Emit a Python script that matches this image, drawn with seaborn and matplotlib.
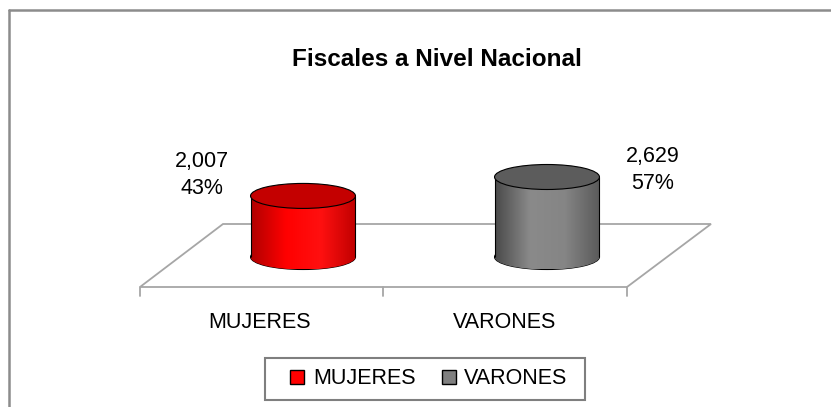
import numpy as np
import matplotlib
matplotlib.use("Agg")
import matplotlib.pyplot as plt
import seaborn as sns
from matplotlib.patches import Ellipse, Polygon, Patch, Rectangle
from matplotlib.lines import Line2D
from matplotlib.colors import LinearSegmentedColormap

# data
categorias = ["MUJERES", "VARONES"]
valores = [2007, 2629]
titulo = "Fiscales a Nivel Nacional"

# styles
colores = ["#ff0000", "#808080"]
tapas = ["#c40000", "#5c5c5c"]
gradientes = [["#b00000", "#ff0000", "#ff1010", "#c00000"],
              ["#4a4a4a", "#8a8a8a", "#858585", "#5a5a5a"]]
offsets_etiqueta = [(-101, 21), (106, 7)]

sns.set_style("white")
plt.rcParams["font.family"] = ["Liberation Sans", "DejaVu Sans"]
plt.rcParams["text.color"] = "black"

W, H = 831, 407
fig = plt.figure(figsize=(W / 100, H / 100), dpi=100)


def fpx(x, y):
    return (x / W, 1 - y / H)


# axes placed so the cylinders land where they are in the reference
ax = fig.add_axes([181 / W, 1 - 300 / H, 488 / W, 200 / H])
ax.patch.set_visible(False)
sns.barplot(x=categorias, y=valores, hue=categorias, palette=colores,
            width=0.43, legend=False, ax=ax, zorder=3)
ymin, ymax = -1413, 5159
ax.set_xlim(-0.5, 1.5)
ax.set_ylim(ymin, ymax)
ax.axis("off")

ell_h = 25 / 200 * (ymax - ymin)
total = sum(valores)

for i, bar in enumerate(ax.patches):
    x0, w, h = bar.get_x(), bar.get_width(), bar.get_height()
    xc = x0 + w / 2
    bar.set_edgecolor("none")
    cmap = LinearSegmentedColormap.from_list("g%d" % i, gradientes[i])
    grad = np.linspace(0, 1, 256).reshape(1, -1)

    # bottom ellipse
    base = Ellipse((xc, 0), w, ell_h, facecolor=colores[i], edgecolor="black",
                   lw=0.8, zorder=2)
    ax.add_patch(base)
    im = ax.imshow(grad, cmap=cmap, aspect="auto", extent=(x0, x0 + w, -ell_h / 2, ell_h / 2),
                   zorder=2.1)
    im.set_clip_path(base)
    # body gradient
    im2 = ax.imshow(grad, cmap=cmap, aspect="auto", extent=(x0, x0 + w, 0, h), zorder=3.5)
    im2.set_clip_path(bar)
    ax.vlines([x0, x0 + w], 0, h, colors="black", lw=0.8, zorder=4)
    # top
    ax.add_patch(Ellipse((xc, h), w, ell_h, facecolor=tapas[i], edgecolor="black",
                         lw=0.8, zorder=5))
    # label
    pct = round(valores[i] / total * 100)
    dx, dy = offsets_etiqueta[i]
    ax.annotate(f"{valores[i]:,}\n{pct}%", xy=(xc, h), xytext=(dx, dy),
                textcoords="offset pixels", ha="center", va="center",
                fontsize=15.5, linespacing=1.35, annotation_clip=False)

# floor
floor = Polygon([fpx(140, 287), fpx(627, 287), fpx(711, 224), fpx(223, 224)],
                closed=True, fill=False, edgecolor="#a6a6a6", lw=1.3,
                transform=fig.transFigure, zorder=1, clip_on=False)
ax.add_patch(floor)
for tx in (140, 383, 627):
    ax.add_line(Line2D([tx / W, tx / W], [1 - 287 / H, 1 - 296 / H], color="#a6a6a6",
                       lw=1.3, transform=fig.transFigure, clip_on=False))

for cat, cx in zip(categorias, (260, 505)):
    fig.text(*fpx(cx, 322), cat, ha="center", va="center", fontsize=15.5)

fig.text(*fpx(437, 59), titulo, ha="center", va="center", fontsize=17.5, fontweight="bold")

handles = [Patch(facecolor=c, edgecolor="black", lw=1) for c in colores]
leg = fig.legend(handles, categorias, loc="center", bbox_to_anchor=fpx(429, 379),
                 ncol=2, fontsize=15.5, frameon=False,
                 handlelength=0.65, handleheight=0.65,
                 handletextpad=0.4, columnspacing=1.2)
# legend box
fig.add_artist(Rectangle(fpx(265, 400), 320 / W, 42 / H, transform=fig.transFigure,
                         fill=False, edgecolor="#7f7f7f", lw=1.5))

# outer chart border
fig.add_artist(Line2D([9 / W, 9 / W], [0, 1 - 10 / H], color="#8c8c8c", lw=1.8))
fig.add_artist(Line2D([9 / W, 1], [1 - 10 / H, 1 - 10 / H], color="#8c8c8c", lw=1.8))

fig.savefig("out.png", dpi=100)
